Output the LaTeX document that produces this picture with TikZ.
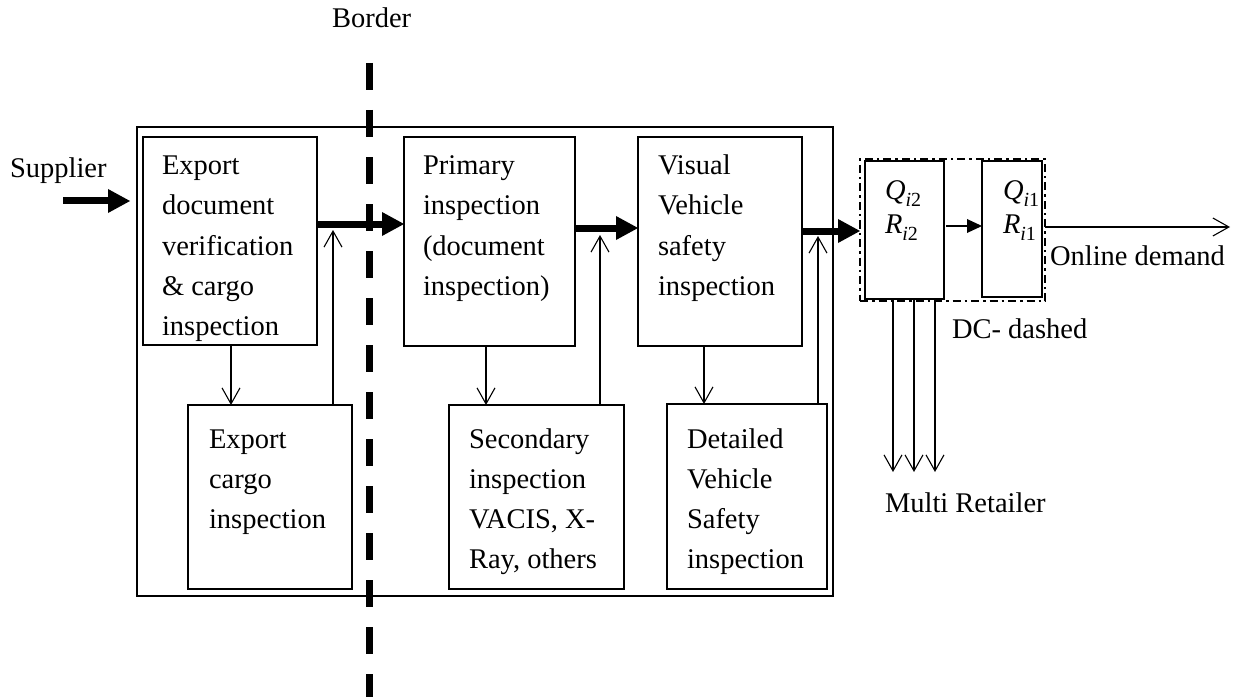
\documentclass[tikz,border=0pt]{standalone}
\usepackage{fontspec}
\setmainfont{Liberation Serif}
\usetikzlibrary{arrows.meta}
% italic variable with a lowered index, e.g. \varsub{Q}{i}{2}
\newcommand{\varsub}[3]{\textit{#1}\raisebox{-7bp}{\fontsize{20bp}{20bp}\selectfont\textit{#2}#3}}
\begin{document}
\begin{tikzpicture}[x=1bp,y=-1bp,
  box/.style={draw, line width=1.1bp, inner sep=0, outer sep=0, anchor=north west},
  frame/.style={draw, line width=2.2bp, inner sep=0, outer sep=0, anchor=north west},
  dcbox/.style={draw, line width=2.4bp, inner sep=0, outer sep=0, anchor=north west,
    dash pattern=on 8bp off 4bp on 2.5bp off 4bp},
  txt/.style={anchor=base west, inner sep=0, outer sep=0,
    font=\fontsize{28.5bp}{40bp}\selectfont},
  bigarrow/.style={line width=7bp, -{Triangle[length=22bp,width=24bp,line width=0pt]}},
  thinarrow/.style={line width=1.1bp, -{Straight Barb[length=16bp,width=18bp]}},
  smallarrow/.style={line width=1.1bp, -{Triangle[length=15bp,width=14bp,line width=0pt]}},
  borderline/.style={line width=7bp, dash pattern=on 27bp off 20bp}]
\useasboundingbox (0,0) rectangle (1242,698);

% outer frame and process boxes
\node[frame, minimum width=696bp, minimum height=469bp] (outer) at (137,127) {};
\node[box, minimum width=174bp, minimum height=208bp] (expdoc) at (143,137) {};
\node[box, minimum width=164bp, minimum height=184bp] (expcargo) at (188,405) {};
\node[box, minimum width=171bp, minimum height=209bp] (primary) at (404,137) {};
\node[box, minimum width=175bp, minimum height=184bp] (secondary) at (449,405) {};
\node[box, minimum width=164bp, minimum height=209bp] (visual) at (638,137) {};
\node[box, minimum width=160bp, minimum height=185bp] (detailed) at (667,404) {};

% distribution centre
\node[dcbox, minimum width=185bp, minimum height=142bp] (dc) at (860,159) {};
\node[box, minimum width=79bp, minimum height=138bp] (q2) at (865,161) {};
\node[box, minimum width=60bp, minimum height=136bp] (q1) at (982,161) {};

% box texts
\node[txt] (texpdoc) at (162,175) {\parbox[t]{200bp}{Export\\document\\verification\\\& cargo\\inspection}};
\node[txt] (texpcargo) at (209,448) {\parbox[t]{200bp}{Export\\cargo\\inspection}};
\node[txt] (tprimary) at (423,175) {\parbox[t]{200bp}{Primary\\inspection\\(document\\inspection)}};
\node[txt] (tsecondary) at (469,448) {\parbox[t]{200bp}{Secondary\\inspection\\VACIS, X-\\Ray, others}};
\node[txt] (tvisual) at (658,175) {\parbox[t]{200bp}{Visual\\Vehicle\\safety\\inspection}};
\node[txt] (tdetailed) at (687,448) {\parbox[t]{200bp}{Detailed\\Vehicle\\Safety\\inspection}};
\node[txt] (tq2) at (885,200) {\parbox[t]{80bp}{\fontsize{28.5bp}{34bp}\selectfont \varsub{Q}{i}{2}\\\varsub{R}{i}{2}}};
\node[txt] (tq1) at (1003,200) {\parbox[t]{80bp}{\fontsize{28.5bp}{34bp}\selectfont \varsub{Q}{i}{1}\\\varsub{R}{i}{1}}};

% free labels
\node[txt] (lborder) at (332,28) {Border};
\node[txt] (lsupplier) at (10,178) {Supplier};
\node[txt] (lonline) at (1050,265) {Online demand};
\node[txt] (ldc) at (952,338) {DC- dashed};
\node[txt] (lmulti) at (885,512) {Multi Retailer};

% reference rows and columns for the connectors
\coordinate (ysup) at (63,201);
\coordinate (y1) at (0,224);
\coordinate (y2) at (0,228);
\coordinate (y3) at (0,231);
\coordinate (y4) at (0,226);
\coordinate (y5) at (0,227);
\coordinate (xa) at (231,0);
\coordinate (xb) at (333,0);
\coordinate (xc) at (486,0);
\coordinate (xd) at (600,0);
\coordinate (xe) at (704,0);
\coordinate (xf) at (818,0);
\coordinate (tipb) at (333,230);
\coordinate (tipd) at (600,235);
\coordinate (tipf) at (818,236);
\coordinate (online) at (1230,227);
\coordinate (m1) at (893,472);
\coordinate (m2) at (914,472);
\coordinate (m3) at (935,472);

% main flow
\draw[bigarrow, shorten >=7bp] (ysup) -- (outer.west |- ysup);
\draw[bigarrow] (expdoc.east |- y1) -- (primary.west |- y1);
\draw[bigarrow] (primary.east |- y2) -- (visual.west |- y2);
\draw[bigarrow] (visual.east |- y3) -- (dc.west |- y3);
\draw[smallarrow] ([xshift=2bp]q2.east |- y4) -- (q1.west |- y4);
\draw[thinarrow] (dc.east |- y5) -- (online);

% inspection loops
\draw[thinarrow] (expdoc.south -| xa) -- (expcargo.north -| xa);
\draw[thinarrow] (expcargo.north -| xb) -- (tipb);
\draw[thinarrow] (primary.south -| xc) -- (secondary.north -| xc);
\draw[thinarrow] (secondary.north -| xd) -- (tipd);
\draw[thinarrow] (visual.south -| xe) -- (detailed.north -| xe);
\draw[thinarrow] (detailed.north -| xf) -- (tipf);

% retailer deliveries
\draw[thinarrow] (q2.south -| m1) -- (m1);
\draw[thinarrow] (q2.south -| m2) -- (m2);
\draw[thinarrow] (q2.south -| m3) -- (m3);

% border line
\draw[borderline] (369,63) -- (369,697);
\end{tikzpicture}
\end{document}
